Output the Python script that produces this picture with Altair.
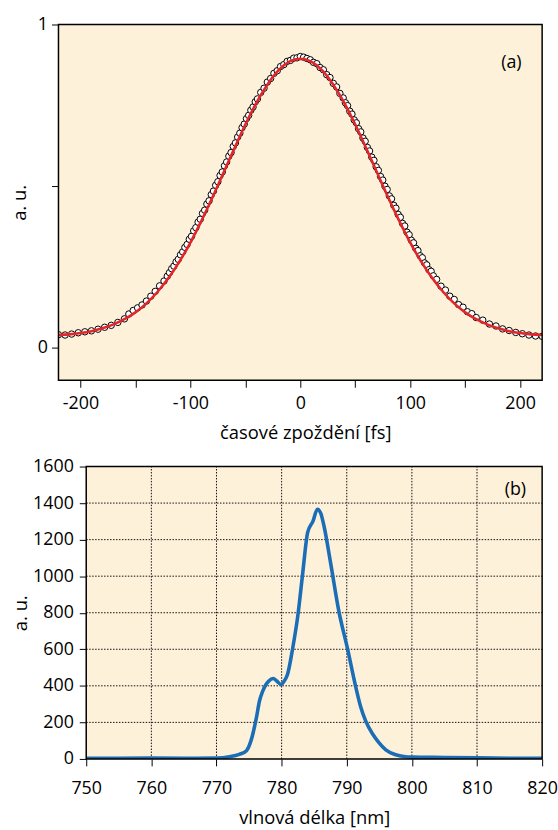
import altair as alt
import pandas as pd

# ---------------- panel (a): autocorrelation, measured points ----------------
delay_fs = [
    -220, -214, -208, -202, -196, -190, -184, -178, -172, -166, -160,
    -156, -152, -148, -144, -140, -136, -132, -128, -124,
    -121, -119, -117, -115, -113, -111, -109, -107, -105, -103, -101,
    -99, -97, -95, -93, -91, -89, -87, -85, -83, -81, -79, -77, -75, -73, -71,
    -69, -67, -65, -63, -61, -59, -57, -55, -53, -51, -49, -47, -45, -43, -41, -39,
    -36, -33, -30, -27, -24, -21, -18, -15, -12, -9, -6, -3, 0,
    3, 6, 9, 12, 15, 18, 21, 24, 27, 30, 33, 36,
    39, 41, 43, 45, 47, 49, 51, 53, 55, 57, 59, 61, 63, 65, 67, 69,
    71, 73, 75, 77, 79, 81, 83, 85, 87, 89, 91, 93, 95, 97, 99,
    101, 103, 105, 107, 109, 111, 113, 115, 117, 119, 121,
    124, 128, 132, 136, 140, 144, 148, 152, 156,
    160, 166, 172, 178, 184, 190, 196, 202, 208, 214, 220,
]
signal = [
    0.041, 0.040, 0.043, 0.047, 0.050, 0.053, 0.058, 0.064, 0.070, 0.079, 0.090,
    0.105, 0.116, 0.124, 0.133, 0.145, 0.160, 0.175, 0.192, 0.207,
    0.222, 0.233, 0.245, 0.253, 0.266, 0.274, 0.288, 0.297, 0.311, 0.320, 0.336,
    0.345, 0.362, 0.372, 0.389, 0.398, 0.416, 0.426, 0.445, 0.455, 0.474, 0.485, 0.503, 0.514, 0.533, 0.544,
    0.563, 0.575, 0.593, 0.604, 0.623, 0.634, 0.652, 0.664, 0.681, 0.692, 0.709, 0.719, 0.735, 0.745, 0.761, 0.770,
    0.790, 0.803, 0.822, 0.833, 0.849, 0.857, 0.870, 0.876, 0.886, 0.889, 0.896, 0.897, 0.901,
    0.899, 0.895, 0.891, 0.883, 0.879, 0.867, 0.860, 0.845, 0.836, 0.818, 0.807, 0.787,
    0.773, 0.758, 0.749, 0.732, 0.723, 0.705, 0.696, 0.678, 0.668, 0.649, 0.639, 0.620, 0.609, 0.590, 0.580, 0.560,
    0.549, 0.530, 0.519, 0.500, 0.490, 0.470, 0.461, 0.441, 0.432, 0.413, 0.404, 0.385, 0.377, 0.358, 0.350,
    0.333, 0.325, 0.308, 0.301, 0.285, 0.279, 0.263, 0.257, 0.242, 0.237, 0.223,
    0.212, 0.191, 0.179, 0.160, 0.150, 0.134, 0.126, 0.112, 0.106,
    0.094, 0.086, 0.074, 0.068, 0.059, 0.054, 0.048, 0.044, 0.040, 0.037, 0.036,
]

# ---------------- panel (a): fitted curve ----------------
fit_delay_fs = [-220, -210, -200, -190, -180, -170, -160, -150, -140, -130, -120,
                -110, -100, -90, -80, -70, -60, -50, -40, -30, -20, -10, 0,
                10, 20, 30, 40, 50, 60, 70, 80, 90, 100, 110,
                120, 130, 140, 150, 160, 170, 180, 190, 200, 210, 220]
fit_signal = [0.040, 0.042, 0.046, 0.052, 0.061, 0.073, 0.089, 0.110, 0.138, 0.173, 0.216,
              0.267, 0.326, 0.393, 0.465, 0.541, 0.617, 0.691, 0.758, 0.814, 0.858, 0.885, 0.894,
              0.885, 0.858, 0.814, 0.758, 0.691, 0.617, 0.541, 0.465, 0.393, 0.326, 0.267,
              0.216, 0.173, 0.138, 0.110, 0.089, 0.073, 0.061, 0.052, 0.046, 0.042, 0.040]

# ---------------- panel (b): spectrum ----------------
wavelength_nm = [750, 755, 760, 765, 770, 772, 773.5, 774.6, 775.3, 776.1, 776.6, 777.1,
                 777.6, 778.0, 778.7, 779.3, 779.9, 780.4, 780.9, 781.7, 782.5, 783.2,
                 784.0, 784.8, 785.5, 786.0, 786.5, 787.5, 788.8, 790.1, 791.3, 792.1,
                 792.9, 794.0, 794.9, 796.0, 797.4, 799.0, 800, 805, 810, 815, 820]
intensity = [3, 4, 5, 4, 5, 12, 25, 45, 100, 220, 317, 371,
             407, 425, 440, 425, 407, 426, 462, 606, 787, 1004,
             1240, 1300, 1366, 1345, 1276, 1077, 806, 606, 407, 290,
             208, 135, 91, 50, 24, 12, 10, 8, 6, 4, 3]

x_ticks_a = [-200, -150, -100, -50, 0, 50, 100, 150, 200]
y_ticks_a = [0, 0.5, 1]
x_ticks_b = [750, 760, 770, 780, 790, 800, 810, 820]
y_ticks_b = [0, 200, 400, 600, 800, 1000, 1200, 1400, 1600]
grid_x_b = [760, 770, 780, 790, 800, 810]
grid_y_b = [200, 400, 600, 800, 1000, 1200, 1400]

FONT = "Open Sans"
LBL = 18
TTL = 18.5
BG = "#fdf1da"

W = 488            # common view width (panel a plot width)
WB = 460           # panel b plot width
SHIFT = W - WB     # panel b plot starts this many px to the right
XB_MIN = 750 - 70 * SHIFT / WB

df_pts = pd.DataFrame({"t": delay_fs, "v": signal})
df_fit = pd.DataFrame({"t": fit_delay_fs, "v": fit_signal})
df_spec = pd.DataFrame({"w": wavelength_nm, "v": intensity})
frame_a = pd.DataFrame({"x0": [-220], "x1": [220], "y0": [-0.1], "y1": [1.0]})
frame_b = pd.DataFrame({"x0": [750], "x1": [820], "y0": [0], "y1": [1600]})
grid_v = pd.DataFrame({"g": grid_x_b, "lo": [0] * len(grid_x_b), "hi": [1600] * len(grid_x_b)})
grid_h = pd.DataFrame({"g": grid_y_b, "lo": [750] * len(grid_y_b), "hi": [820] * len(grid_y_b)})

# ---------------- panel (a) ----------------
sx_a = alt.Scale(domain=[-220, 220], nice=False, zero=False)
sy_a = alt.Scale(domain=[-0.1, 1], nice=False, zero=False)
xa = alt.X("t:Q", scale=sx_a,
           axis=alt.Axis(values=x_ticks_a, title="časové zpoždění [fs]",
                         labelExpr="datum.value % 100 == 0 ? '' + datum.value : ''",
                         domain=False, grid=False, tickSize=7, tickColor="black",
                         labelFlush=False, labelOverlap=False, labelPadding=7, titlePadding=12,
                         labelFontSize=LBL, titleFontSize=TTL, titleX=249))
ya = alt.Y("v:Q", scale=sy_a,
           axis=alt.Axis(values=y_ticks_a, title="a. u.",
                         labelExpr="datum.value == 0 ? '0' : (datum.value == 1 ? '1' : '')",
                         domain=False, grid=False, tickSize=7, tickColor="black",
                         labelOverlap=False, labelPadding=4, titlePadding=8,
                         labelFontSize=LBL, titleFontSize=TTL))

bg_a = alt.Chart(frame_a).mark_rect(fill=BG, strokeWidth=0).encode(
    x=alt.X("x0:Q", scale=sx_a), x2="x1", y=alt.Y("y0:Q", scale=sy_a), y2="y1")
pts = alt.Chart(df_pts).mark_point(
    shape="circle", filled=True, fill="white", stroke="black",
    strokeWidth=1, size=42, opacity=1, clip=True
).encode(x=xa, y=ya)
fit = alt.Chart(df_fit).mark_line(
    color="#e3262a", strokeWidth=2.6, interpolate="monotone", clip=True
).encode(x="t:Q", y="v:Q")
box_a = alt.Chart(frame_a).mark_rect(fillOpacity=0, stroke="black", strokeWidth=1.5).encode(
    x="x0:Q", x2="x1", y="y0:Q", y2="y1")
lab_a = alt.Chart(pd.DataFrame({"s": ["(a)"]})).mark_text(
    fontSize=18, font=FONT, color="black", align="center", baseline="middle"
).encode(x=alt.value(457), y=alt.value(39), text="s:N")

top = alt.layer(bg_a, pts, fit, box_a, lab_a).properties(width=W, height=359)

# ---------------- panel (b) ----------------
sx_b = alt.Scale(domain=[XB_MIN, 820], nice=False, zero=False)
sy_b = alt.Scale(domain=[0, 1600], nice=False, zero=False)
axis_xb = alt.Axis(values=x_ticks_b, format="d", title="vlnová délka [nm]",
                   domain=False, grid=False, tickSize=7, tickColor="black",
                   labelFlush=False, labelOverlap=False, labelPadding=14, titlePadding=11,
                   labelFontSize=LBL, titleFontSize=TTL,
                   titleX=SHIFT + WB / 2)
axis_yb = alt.Axis(values=y_ticks_b, format="d", title="a. u.", offset=-SHIFT,
                   domain=False, grid=False, tickSize=7, tickColor="black",
                   labelOverlap=False, labelPadding=6, titlePadding=2,
                   labelFontSize=LBL, titleFontSize=TTL)

# every layer of panel (b) carries the same axis definition, so the merged axis keeps all ticks
bg_b = alt.Chart(frame_b).mark_rect(fill=BG, strokeWidth=0).encode(
    x=alt.X("x0:Q", scale=sx_b, axis=axis_xb), x2="x1",
    y=alt.Y("y0:Q", scale=sy_b, axis=axis_yb), y2="y1")
gx = alt.Chart(grid_v).mark_rule(
    color="#111", strokeDash=[1.5, 1.5], strokeWidth=1
).encode(x=alt.X("g:Q", axis=axis_xb), y=alt.Y("lo:Q", axis=axis_yb), y2="hi")
gy = alt.Chart(grid_h).mark_rule(
    color="#111", strokeDash=[1.5, 1.5], strokeWidth=1
).encode(y=alt.Y("g:Q", axis=axis_yb), x=alt.X("lo:Q", axis=axis_xb), x2="hi")
spec = alt.Chart(df_spec).mark_line(
    color="#1b6db5", strokeWidth=3.6, interpolate="monotone", clip=True
).encode(x=alt.X("w:Q", axis=axis_xb), y=alt.Y("v:Q", axis=axis_yb))
box_b = alt.Chart(frame_b).mark_rect(fillOpacity=0, stroke="black", strokeWidth=1.5).encode(
    x=alt.X("x0:Q", axis=axis_xb), x2="x1", y=alt.Y("y0:Q", axis=axis_yb), y2="y1")
lab_b = alt.Chart(pd.DataFrame({"s": ["(b)"]})).mark_text(
    fontSize=18, font=FONT, color="black", align="center", baseline="middle"
).encode(x=alt.value(461), y=alt.value(24), text="s:N")

bottom = alt.layer(bg_b, gx, gy, spec, box_b, lab_b).properties(width=W, height=295)

chart = alt.vconcat(top, bottom, spacing=87, bounds="flush").properties(
    padding={"left": 10, "top": 12, "right": 0, "bottom": 0},
    background="white",
).configure_view(
    strokeWidth=0
).configure_axis(
    labelFont=FONT, titleFont=FONT, labelColor="black", titleColor="black",
    titleFontWeight="normal", tickWidth=1, labelOverlap=False
)

chart.save("out.html", embed_options={"renderer": "svg", "actions": False})
